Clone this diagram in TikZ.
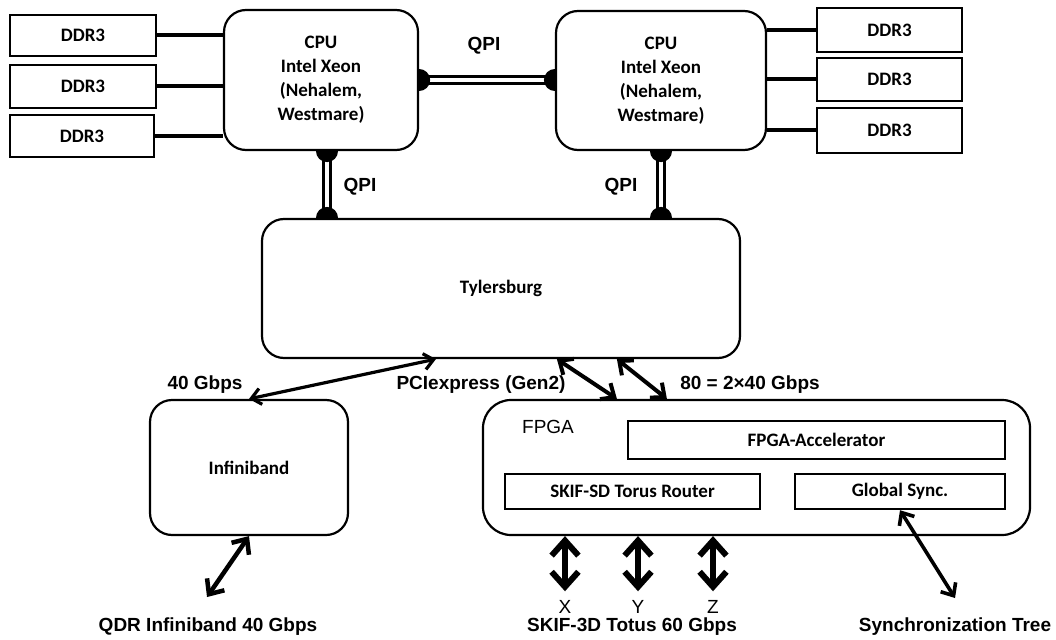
\documentclass[tikz,border=0pt]{standalone}
\usepackage{fontspec}
\setmainfont{Carlito}
\newfontfamily\labfont{Liberation Sans}
\usetikzlibrary{arrows.meta,backgrounds}
\begin{document}
\begin{tikzpicture}[x=1pt,y=-1pt,
  box/.style={draw, line width=2.4pt, fill=white, inner sep=0pt, align=center,
    font=\bfseries\fontsize{19}{24}\selectfont},
  rbox/.style={box, line width=2.2pt, rounded corners=22pt},
  lab/.style={font=\labfont\bfseries\fontsize{19}{22}\selectfont, inner sep=0pt},
  labr/.style={font=\labfont\fontsize{19}{22}\selectfont, inner sep=0pt},
  wire/.style={line width=4pt},
  qpi/.style={line width=3pt, double=white, double distance=3.5pt},
  barb/.style={line width=#1,
    {Straight Barb[length=3pt 2, width=4pt 3.8]}-{Straight Barb[length=3pt 2, width=4pt 3.8]}},
  barb/.default=4pt
]
\useasboundingbox (0,0) rectangle (1056,639);

% memory boxes
\node[box, minimum width=146pt, minimum height=41pt] (dl1) at (83,35.5) {DDR3};
\node[box, minimum width=146pt, minimum height=43pt] (dl2) at (83,86.5) {DDR3};
\node[box, minimum width=144pt, minimum height=42pt] (dl3) at (82,136) {DDR3};
\node[box, minimum width=145pt, minimum height=44pt] (dr1) at (889.5,30) {DDR3};
\node[box, minimum width=145pt, minimum height=43pt] (dr2) at (889.5,79.5) {DDR3};
\node[box, minimum width=145pt, minimum height=45pt] (dr3) at (889.5,130.5) {DDR3};

% CPUs
\node[rbox, minimum width=194pt, minimum height=140pt] (cl) at (321,80)
  {CPU\\Intel Xeon\\(Nehalem,\\Westmare)};
\node[rbox, minimum width=210pt, minimum height=139pt] (cr) at (661,80.5)
  {CPU\\Intel Xeon\\(Nehalem,\\Westmare)};

% chipset and adapters
\node[rbox, minimum width=478pt, minimum height=139pt] (tyl) at (501,288.5) {Tylersburg};
\node[rbox, minimum width=198pt, minimum height=135pt] (inf) at (249,467.5) {Infiniband};
\node[rbox, rounded corners=28pt, minimum width=547pt, minimum height=135pt] (fpga) at (756.5,467.5) {};
\node[labr, anchor=center] (fpgal) at (548,427) {FPGA};
\node[box, minimum width=377pt, minimum height=38pt] (acc) at (816.5,440) {FPGA-Accelerator};
\node[box, minimum width=255pt, minimum height=35pt] (skif) at (632.5,491.5) {SKIF-SD Torus Router};
\node[box, minimum width=210pt, minimum height=35pt] (sync) at (900,491.5) {Global Sync.};

% labels
\node[lab] (qpit) at (484,46) {QPI};
\node[lab] (qpil) at (360,187) {QPI};
\node[lab] (qpir) at (621,187) {QPI};
\node[lab] (g40) at (205,385) {40 Gbps};
\node[lab] (pcie) at (481,385) {PCIexpress (Gen2)};
\node[lab] (g80) at (750,385) {80 = 2×40 Gbps};
\node[labr] (lx) at (565,607) {X};
\node[labr] (ly) at (638,607) {Y};
\node[labr] (lz) at (713,607) {Z};
\node[lab] (qdr) at (208,627) {QDR Infiniband 40 Gbps};
\node[lab] (skt) at (632,627) {SKIF-3D Totus 60 Gbps};
\node[lab] (synt) at (955,627) {Synchronization Tree};
\coordinate (qe) at (207,597);
\coordinate (se) at (955,598);

\begin{pgfonlayer}{background}
  % memory wires
  \draw[wire] (dl1.east) -- (dl1.east -| cl.west);
  \draw[wire] (dl2.east) -- (dl2.east -| cl.west);
  \draw[wire] (dl3.east) -- (dl3.east -| cl.west);
  \draw[wire] (dr1.west) -- (dr1.west -| cr.east);
  \draw[wire] (dr2.west) -- (dr2.west -| cr.east);
  \draw[wire] (dr3.west) -- (dr3.west -| cr.east);
  % QPI links
  \draw[qpi] (cl.east) -- (cl.east -| cr.west);
  \fill (cl.east) circle (11pt);
  \fill (cl.east -| cr.west) circle (11pt);
  \draw[qpi] ([xshift=6pt]cl.south) -- ([xshift=6pt]cl.south |- tyl.north);
  \fill ([xshift=6pt]cl.south) circle (11pt);
  \fill ([xshift=6pt]cl.south |- tyl.north) circle (11pt);
  \draw[qpi] (cr.south) -- (cr.south |- tyl.north);
  \fill (cr.south) circle (11pt);
  \fill (cr.south |- tyl.north) circle (11pt);
\end{pgfonlayer}

% arrows
\draw[barb=3.2pt] ([xshift=175pt]tyl.south west) -- (inf.north);
\draw[barb=4pt] ([xshift=296pt]tyl.south west) -- ([xshift=135pt]fpga.north west);
\draw[barb=4pt] ([xshift=356pt]tyl.south west) -- ([xshift=185pt]fpga.north west);
\draw[barb=4.5pt] (inf.south) -- (qe);
\draw[barb=6pt, shorten >=9pt] (fpga.south -| lx) -- (lx.north);
\draw[barb=6pt, shorten >=9pt] (fpga.south -| ly) -- (ly.north);
\draw[barb=6pt, shorten >=9pt] (fpga.south -| lz) -- (lz.north);
\draw[barb=3.6pt] (sync.south) -- (se);
\end{tikzpicture}
\end{document}
